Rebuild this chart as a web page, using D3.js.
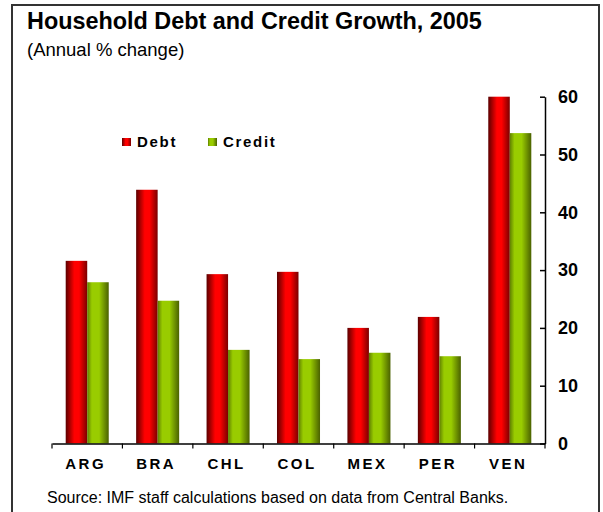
<!DOCTYPE html>
<html>
<head>
<meta charset="utf-8">
<script src="https://cdn.jsdelivr.net/npm/d3@7"></script>
<style>
  html, body { margin: 0; padding: 0; background: #fff; }
  svg { display: block; font-family: Arial, "Liberation Sans", sans-serif; }
</style>
</head>
<body>
<svg id="chart" width="603" height="512"></svg>
<script>
// Household debt and credit growth by country, 2005 (annual % change)
const categories = ["ARG", "BRA", "CHL", "COL", "MEX", "PER", "VEN"];
const debt   = [31.6, 43.9, 29.3, 29.7, 20.0, 21.9, 60.0];
const credit = [27.9, 24.7, 16.2, 14.6, 15.7, 15.1, 53.7];
const seriesNames = ["Debt", "Credit"];
const yTicks = [0, 10, 20, 30, 40, 50, 60];

const svg = d3.select("#chart");

// frame
svg.append("rect")
  .attr("x", 12).attr("y", 5)
  .attr("width", 587).attr("height", 520)
  .attr("fill", "#fff").attr("stroke", "#333").attr("stroke-width", 2);

// gradients for the shaded bars
const defs = svg.append("defs");
function grad(id, stops) {
  const g = defs.append("linearGradient").attr("id", id)
    .attr("x1", "0%").attr("x2", "100%").attr("y1", "0%").attr("y2", "0%");
  stops.forEach(([o, c]) => g.append("stop").attr("offset", o).attr("stop-color", c));
}
grad("gDebt",   [["0%", "#5c0000"], ["40%", "#ff0000"], ["62%", "#ff0000"], ["100%", "#7a0000"]]);
grad("gCredit", [["0%", "#5f7f00"], ["22%", "#99cc00"], ["55%", "#99cc00"], ["100%", "#4a6100"]]);
const fills = { Debt: "url(#gDebt)", Credit: "url(#gCredit)" };

// scales
const x = d3.scaleBand().domain(categories).range([52, 545]).paddingInner(0).paddingOuter(0);
const x1 = d3.scaleBand().domain(seriesNames).range([0, x.bandwidth()])
  .paddingInner(0).paddingOuter(0.637);
const y = d3.scaleLinear().domain([0, 60]).range([443.5, 96.7]);

const rows = categories.map((c, i) => ({ cat: c, Debt: debt[i], Credit: credit[i] }));

// bars
const groups = svg.append("g").selectAll("g").data(rows).join("g")
  .attr("transform", d => `translate(${x(d.cat)},0)`);
groups.selectAll("rect")
  .data(d => seriesNames.map(s => ({ s, v: d[s] })))
  .join("rect")
  .attr("x", d => x1(d.s))
  .attr("width", x1.bandwidth())
  .attr("y", d => y(d.v))
  .attr("height", d => y(0) - y(d.v))
  .attr("fill", d => fills[d.s]);

// y axis on the right, ticks pointing into the plot
const yAxis = svg.append("g")
  .attr("transform", "translate(545,0)")
  .call(d3.axisRight(y).tickValues(yTicks).tickSizeInner(-5).tickSizeOuter(0).tickPadding(13));
yAxis.select(".domain").attr("stroke", "#000").attr("stroke-width", 1.5);
yAxis.selectAll(".tick line").attr("stroke", "#000").attr("stroke-width", 1.5);
yAxis.selectAll(".tick text")
  .attr("fill", "#000").style("font-size", "18px").style("font-weight", "bold");

// x axis: category labels, with tick marks on band boundaries
const xAxis = svg.append("g")
  .attr("transform", `translate(0,${y(0)})`)
  .call(d3.axisBottom(x).tickSize(0).tickPadding(15));
xAxis.select(".domain").attr("stroke", "#000").attr("stroke-width", 1.5);
xAxis.selectAll(".tick text")
  .attr("fill", "#000").attr("dx", -1.5)
  .style("font-size", "15px").style("font-weight", "bold")
  .style("letter-spacing", "2.5px");
const bounds = categories.map(c => x(c)).concat([x.range()[1]]);
xAxis.selectAll("line.bound").data(bounds).join("line")
  .attr("class", "bound")
  .attr("x1", d => d).attr("x2", d => d)
  .attr("y1", 0).attr("y2", 5)
  .attr("stroke", "#000").attr("stroke-width", 1.2);

// legend
const legend = svg.append("g");
const legendX = [122, 208];
seriesNames.forEach((s, i) => {
  const g = legend.append("g").attr("transform", `translate(${legendX[i]},138)`);
  g.append("rect").attr("width", 9).attr("height", 8).attr("fill", fills[s]);
  g.append("text").attr("x", 15).attr("y", 8.5)
    .style("font-size", "15px").style("font-weight", "bold")
    .style("letter-spacing", "1.7px").text(s);
});

// titles
svg.append("text").attr("x", 27).attr("y", 29)
  .style("font-size", "23.4px").style("font-weight", "bold")
  .text("Household Debt and Credit Growth, 2005");
svg.append("text").attr("x", 27).attr("y", 56)
  .style("font-size", "18.5px")
  .text("(Annual % change)");

// source note
svg.append("text").attr("x", 47).attr("y", 503)
  .style("font-size", "16px")
  .text("Source: IMF staff calculations based on data from Central Banks.");
</script>
</body>
</html>
